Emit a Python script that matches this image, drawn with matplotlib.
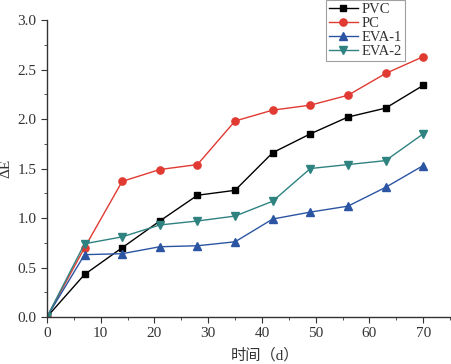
import matplotlib
matplotlib.use("Agg")
import matplotlib.pyplot as plt
from matplotlib.ticker import MultipleLocator

plt.rcParams['font.family'] = ['Liberation Serif', 'Noto Sans CJK SC']
plt.rcParams['mathtext.fontset'] = 'stix'

days = [0, 7, 14, 21, 28, 35, 42, 49, 56, 63, 70]
pvc = [0, 0.43, 0.70, 0.97, 1.23, 1.28, 1.66, 1.85, 2.02, 2.11, 2.34]
pc = [0, 0.70, 1.37, 1.49, 1.54, 1.98, 2.09, 2.14, 2.24, 2.46, 2.63]
eva1 = [0, 0.63, 0.64, 0.71, 0.72, 0.76, 0.99, 1.06, 1.12, 1.31, 1.53]
eva2 = [0, 0.74, 0.81, 0.93, 0.97, 1.02, 1.17, 1.50, 1.54, 1.58, 1.85]

fig = plt.figure(figsize=(4.51, 3.64), dpi=100)
ax = fig.add_axes([0.104, 0.129, 0.894, 0.816])

ax.plot(days, pvc, '-s', color='black', ms=4.6, lw=1, label='PVC')
ax.plot(days, pc, '-o', color='#e03a32', ms=5.2, lw=1, label='PC')
ax.plot(days, eva1, '-^', color='#2b55a3', ms=5.6, lw=1, label='EVA-1')
ax.plot(days, eva2, '-v', color='#2e8280', ms=5.6, lw=1, label='EVA-2')

ax.set_xlim(0, 75)
ax.set_ylim(0, 3.0)
ax.xaxis.set_major_locator(MultipleLocator(10))
ax.xaxis.set_minor_locator(MultipleLocator(5))
ax.yaxis.set_major_locator(MultipleLocator(0.5))
ax.yaxis.set_minor_locator(MultipleLocator(0.25))
ax.yaxis.set_major_formatter(matplotlib.ticker.FormatStrFormatter('%.1f'))
ax.spines['top'].set_visible(False)
ax.spines['right'].set_visible(False)
for s in ['left', 'bottom']:
    ax.spines[s].set_color('#333333')
    ax.spines[s].set_linewidth(1)
ax.tick_params(which='major', direction='out', length=4, labelsize=11, colors='#333333')
ax.tick_params(which='minor', direction='out', length=2.5, colors='#333333')
for lab in ax.get_xticklabels() + ax.get_yticklabels():
    lab.set_color('#333333')

ax.set_xlabel('时间（d）', fontsize=11, color='#333333')
ax.set_ylabel('ΔE', fontsize=11, color='#333333', labelpad=4)
ax.xaxis.set_label_coords(0.54, -0.105)

leg = ax.legend(loc='upper left', bbox_to_anchor=(0.722, 1.0), bbox_transform=fig.transFigure,
                fontsize=10.5, frameon=True, fancybox=False, edgecolor='#888888',
                handlelength=2.0, handletextpad=0.3, borderpad=0.2, labelspacing=0.05,
                borderaxespad=0)
leg.get_frame().set_linewidth(0.8)
for t in leg.get_texts():
    t.set_color('#333333')

fig.savefig('out.png', dpi=100)
